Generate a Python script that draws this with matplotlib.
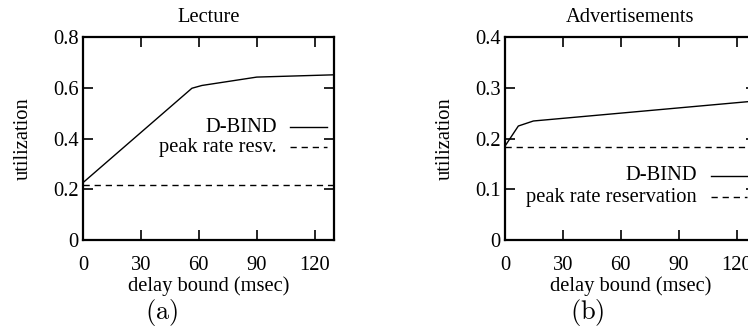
import matplotlib
matplotlib.use("Agg")
import matplotlib.pyplot as plt
from matplotlib.lines import Line2D

plt.rcParams['font.family'] = ['Liberation Serif', 'DejaVu Serif']
plt.rcParams['mathtext.fontset'] = 'cm'

FS = 14.8

# ---- data ----
lec_delay = [0, 56.4, 61.6, 90, 130]
lec_dbind = [0.226, 0.598, 0.609, 0.642, 0.651]
lec_peak_delay = [0, 130]
lec_peak = [0.217, 0.217]

adv_delay = [0, 6.9, 14.7, 130]
adv_dbind = [0.185, 0.2246, 0.2345, 0.274]
adv_peak_delay = [0, 130]
adv_peak = [0.184, 0.184]

x_ticks = [0, 30, 60, 90, 120]
lec_yticks = [0, 0.2, 0.4, 0.6, 0.8]
lec_ylabels = ['0', '0.2', '0.4', '0.6', '0.8']
adv_yticks = [0, 0.1, 0.2, 0.3, 0.4]
adv_ylabels = ['0', '0.1', '0.2', '0.3', '0.4']

titles = ['Lecture', 'Advertisements']
legend_labels = [['D-BIND', 'peak rate resv.'], ['D-BIND', 'peak rate reservation']]
panel_labels = [r'$(\mathrm{a})$', r'$(\mathrm{b})$']

W, H = 748, 329
fig = plt.figure(figsize=(W / 100, H / 100), dpi=100)

def fx(px):
    return px / W

def fy(py):
    return 1 - py / H

ax_w = fx(251)
ax_h = 203 / H
ax1 = fig.add_axes([fx(83), fy(240), ax_w, ax_h])
ax2 = fig.add_axes([fx(505), fy(240), ax_w, ax_h])

dash = (0, (4.5, 3.5))

def style(ax, yticks, ylabels, ymax, title, leg, legx, legy):
    ax.set_xlim(0, 130)
    ax.set_ylim(0, ymax)
    ax.set_xticks(x_ticks)
    ax.set_xticklabels([str(t) for t in x_ticks], fontsize=FS)
    ax.set_yticks(yticks)
    ax.set_yticklabels(ylabels, fontsize=FS)
    ax.tick_params(direction='in', top=True, right=True, length=7.5, width=1.2)
    ax.tick_params(axis='x', pad=11.5)
    ax.tick_params(axis='y', pad=3)
    for s in ax.spines.values():
        s.set_linewidth(1.6)
    ax.set_title(title, fontsize=FS, pad=11)
    ax.set_xlabel('delay bound (msec)', fontsize=FS, labelpad=1.2)
    ax.set_ylabel('utilization', fontsize=FS, labelpad=14.5)
    # gnuplot-style legend: right-aligned text, sample to the right
    tx, sx0, sx1 = legx
    for i, (lab, ls) in enumerate(zip(leg, ['-', dash])):
        y = legy[i]
        ax.text(tx, y, lab, transform=ax.transAxes, ha='right', va='center',
                fontsize=FS)
        ax.add_line(Line2D([sx0, sx1], [y, y], transform=ax.transAxes,
                           color='black', lw=1.0, linestyle=ls))

ax1.plot(lec_delay, lec_dbind, color='black', lw=1.0)
ax1.plot(lec_peak_delay, lec_peak, color='black', lw=1.0, linestyle=dash)
style(ax1, lec_yticks, lec_ylabels, 0.8, titles[0], legend_labels[0],
      (0.772, 0.825, 0.971), (0.555, 0.457))

ax2.plot(adv_delay, adv_dbind, color='black', lw=1.0)
ax2.plot(adv_peak_delay, adv_peak, color='black', lw=1.0, linestyle=dash)
style(ax2, adv_yticks, adv_ylabels, 0.4, titles[1], legend_labels[1],
      (0.764, 0.821, 0.966), (0.317, 0.21))

fig.text(fx(161.5), fy(312), panel_labels[0], ha='center', va='center', fontsize=19)
fig.text(fx(587), fy(312), panel_labels[1], ha='center', va='center', fontsize=19)

fig.savefig('out.png', dpi=100)
